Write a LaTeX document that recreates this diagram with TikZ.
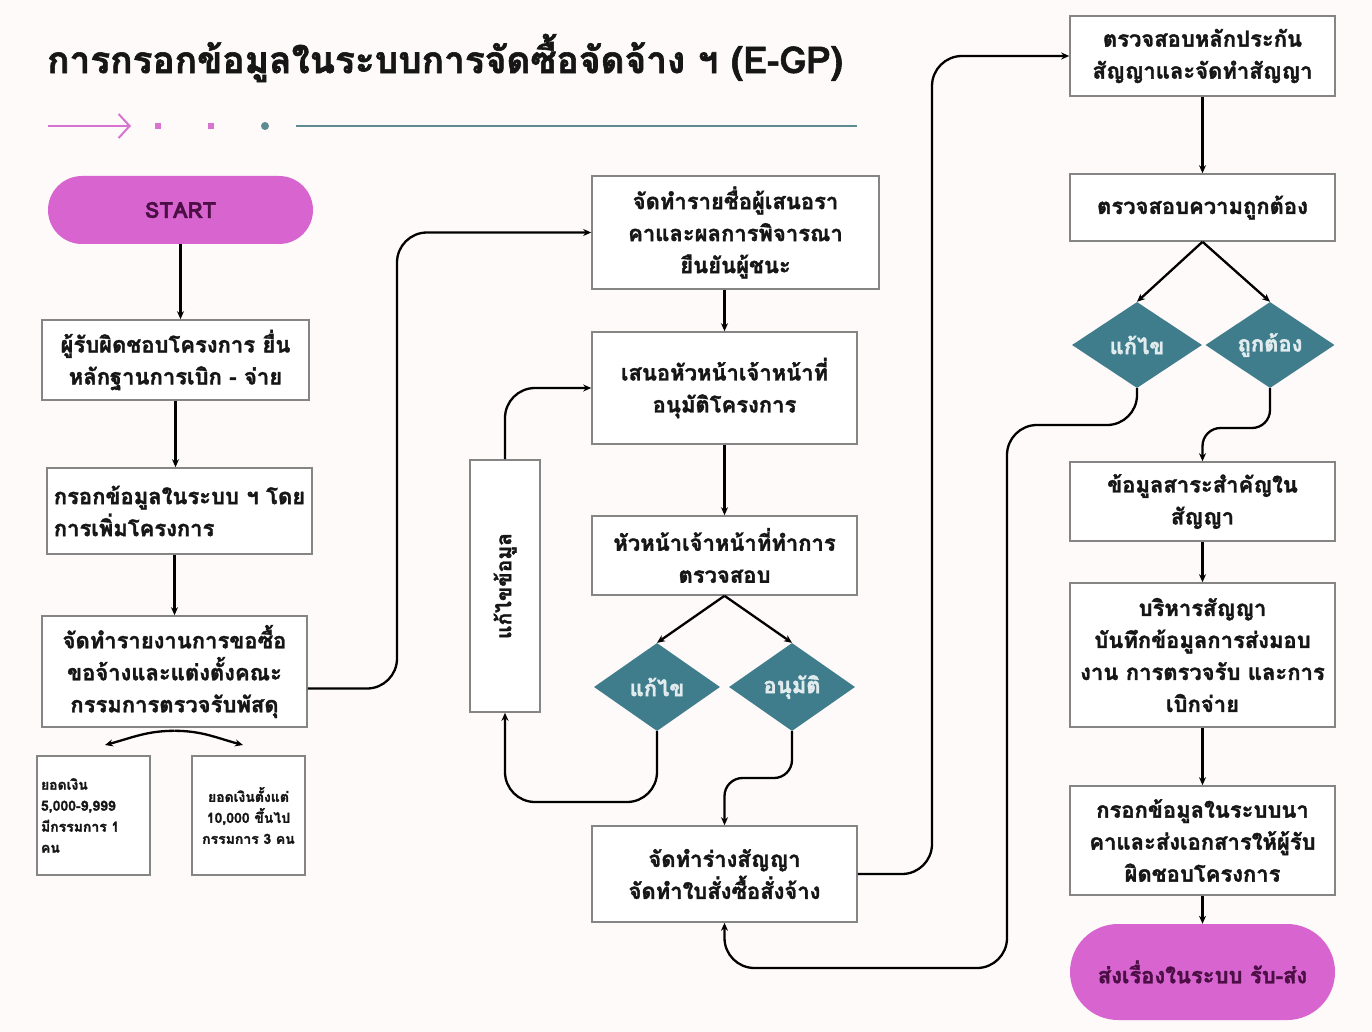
\documentclass[tikz,border=0pt]{standalone}
\usepackage{fontspec}
\newfontfamily\thai[Script=Thai, FakeBold=1.6]{Loma}
\usetikzlibrary{shapes.geometric,arrows.meta,calc}
\definecolor{bgc}{HTML}{FDFAF9}
\definecolor{magc}{HTML}{D764CF}
\definecolor{purc}{HTML}{4B0F45}
\definecolor{tealc}{HTML}{407D8C}
\definecolor{teall}{HTML}{5E8A92}
\definecolor{pinkc}{HTML}{D874CF}
\definecolor{bordc}{HTML}{858585}
\definecolor{txtc}{HTML}{161616}
\tikzset{
  box/.style={draw=bordc, line width=1.6pt, fill=white, align=center, inner sep=2pt,
    text=txtc, font=\thai\bfseries\fontsize{22}{32}\selectfont},
  smallbox/.style={draw=bordc, line width=1.6pt, fill=white, inner sep=3pt,
    text=txtc, font=\thai\bfseries\fontsize{14}{21}\selectfont},
  term/.style={fill=magc, draw=none, text=purc, align=center,
    font=\thai\bfseries\fontsize{22}{32}\selectfont},
  dec/.style={diamond, fill=tealc, draw=none, inner sep=0pt, aspect=1.45,
    text=white!85!tealc, font=\thai\bfseries\fontsize{22}{26}\selectfont},
  conn/.style={draw=black, line width=2.3pt, -{Stealth[length=8pt,width=7pt]}},
}
\begin{document}
\begin{tikzpicture}[x=1pt,y=-1pt]
\fill[bgc] (0,0) rectangle (1372,1032);
\useasboundingbox (0,0) rectangle (1372,1032);

% title
\node[anchor=west, inner sep=0, text=txtc, font=\thai\bfseries\fontsize{37}{44}\selectfont] (title) at (47,58) {การกรอกข้อมูลในระบบการจัดซื้อจัดจ้าง ฯ (E-GP)};

% decoration
\coordinate (d0) at (48,126);
\coordinate (d1) at (131,126);
\draw[pinkc, line width=2pt, -{Straight Barb[length=11pt,width=24pt,line width=2pt]}] (d0) -- (d1);
\fill[pinkc] (155,123) rectangle (161,129);
\fill[pinkc] (208,123) rectangle (214,129);
\fill[teall] (265,126) circle (4);
\coordinate (l0) at (296,126);
\coordinate (l1) at (857,126);
\draw[teall, line width=2.5pt] (l0) -- (l1);

% left column
\node[term, rounded corners=34pt, minimum width=265pt, minimum height=68pt] (start) at (180.5,210) {START};
\node[box, minimum width=267pt, minimum height=80pt] (b1) at (175.5,360) {ผู้รับผิดชอบโครงการ ยื่น\\หลักฐานการเบิก - จ่าย};
\node[box, minimum width=265pt, minimum height=86pt, align=left] (b2) at (179.5,511) {กรอกข้อมูลในระบบ ฯ โดย\\การเพิ่มโครงการ};
\node[box, minimum width=265pt, minimum height=111pt] (b3) at (174.5,671.5) {จัดทำรายงานการขอซื้อ\\ขอจ้างและแต่งตั้งคณะ\\กรรมการตรวจรับพัสดุ};
\node[smallbox, minimum width=113pt, minimum height=119pt, text width=105pt, align=left] (sA) at (93.5,815.5) {ยอดเงิน\\5,000-9,999\\มีกรรมการ 1\\คน};
\node[smallbox, minimum width=113pt, minimum height=119pt, text width=105pt, align=center] (sB) at (248.5,815.5) {ยอดเงินตั้งแต่\\10,000 ขึ้นไป\\กรรมการ 3 คน};

% middle column
\node[box, minimum width=287pt, minimum height=113pt] (b4) at (735.5,232.5) {จัดทำรายชื่อผู้เสนอรา\\คาและผลการพิจารณา\\ยืนยันผู้ชนะ};
\node[box, minimum width=265pt, minimum height=112pt] (b5) at (724.5,388) {เสนอหัวหน้าเจ้าหน้าที่\\อนุมัติโครงการ};
\node[box, minimum width=265pt, minimum height=79pt] (b6) at (724.5,555.5) {หัวหน้าเจ้าหน้าที่ทำการ\\ตรวจสอบ};
\node[dec, minimum width=126pt, minimum height=88pt] (dL) at (657,687) {แก้ไข};
\node[dec, minimum width=126pt, minimum height=88pt] (dA) at (792,687) {อนุมัติ};
\node[box, minimum width=70pt, minimum height=252pt] (vb) at (505,586) {};
\node[rotate=90, inner sep=0, text=txtc, font=\thai\bfseries\fontsize{21}{32}\selectfont] (vbt) at (vb.center) {แก้ไขข้อมูล};
\node[box, minimum width=265pt, minimum height=96pt] (b7) at (724.5,874) {จัดทำร่างสัญญา\\จัดทำใบสั่งซื้อสั่งจ้าง};

% right column
\node[box, minimum width=265pt, minimum height=80pt] (b8) at (1202.5,56) {ตรวจสอบหลักประกัน\\สัญญาและจัดทำสัญญา};
\node[box, minimum width=265pt, minimum height=67pt] (b9) at (1202.5,207.5) {ตรวจสอบความถูกต้อง};
\node[dec, minimum width=130pt, minimum height=86pt] (dF) at (1137,345) {แก้ไข};
\node[dec, minimum width=129pt, minimum height=86pt] (dG) at (1270,345) {ถูกต้อง};
\node[box, minimum width=265pt, minimum height=79pt] (b10) at (1202.5,501.5) {ข้อมูลสาระสำคัญใน\\สัญญา};
\node[box, minimum width=265pt, minimum height=144pt] (b11) at (1202.5,655) {บริหารสัญญา\\บันทึกข้อมูลการส่งมอบ\\งาน การตรวจรับ และการ\\เบิกจ่าย};
\node[box, minimum width=265pt, minimum height=109pt] (b12) at (1202.5,840.5) {กรอกข้อมูลในระบบนา\\คาและส่งเอกสารให้ผู้รับ\\ผิดชอบโครงการ};
\node[term, rounded corners=48pt, minimum width=265pt, minimum height=96pt] (end) at (1202.5,972) {ส่งเรื่องในระบบ รับ-ส่ง};

% connectors left
\draw[conn] (start.south) -- (start.south|-b1.north);
\draw[conn] (b1.south) -- (b1.south|-b2.north);
\draw[conn] (b3.north|-b2.south) -- (b3.north);
\coordinate (pa) at (105,745);
\coordinate (pb) at (243,745);
\draw[conn] ([yshift=-3pt]b3.south) to[out=180,in=15] (pa);
\draw[conn] ([yshift=-3pt]b3.south) to[out=0,in=165] (pb);
\draw[conn, rounded corners=30pt] ([yshift=-17pt]b3.east) -- (397,688.5) -- (397,232.5) -- (b4.west);

% connectors middle
\draw[conn] (b4.south -| b5.north) -- (b5.north);
\draw[conn] (b5.south) -- (b6.north);
\draw[conn] (b6.south) -- (dL.north);
\draw[conn] (b6.south) -- (dA.north);
\draw[conn, rounded corners=30pt] (dL.south) -- (657,802) -- (505,802) -- (vb.south);
\draw[conn, rounded corners=30pt] (vb.north) -- (505,388) -- (b5.west);
\draw[conn, rounded corners=18pt] (dA.south) -- (792,778) -- (724.5,778) -- (b7.north);
\draw[conn, rounded corners=30pt] (b7.east) -- (932,874) -- (932,56) -- (b8.west);

% connectors right
\draw[conn] (b8.south) -- (b9.north);
\draw[conn] (b9.south) -- (dF.north);
\draw[conn] (b9.south) -- (dG.north);
\draw[conn, rounded corners=30pt] (dF.south) -- (1137,425) -- (1007,425) -- (1007,968) -- (724.5,968) -- (b7.south);
\draw[conn, rounded corners=18pt] (dG.south) -- (1270,428) -- (1202.5,428) -- (b10.north);
\draw[conn] (b10.south) -- (b11.north);
\draw[conn] (b11.south) -- (b12.north);
\draw[conn] (b12.south) -- (end.north);
\end{tikzpicture}
\end{document}
